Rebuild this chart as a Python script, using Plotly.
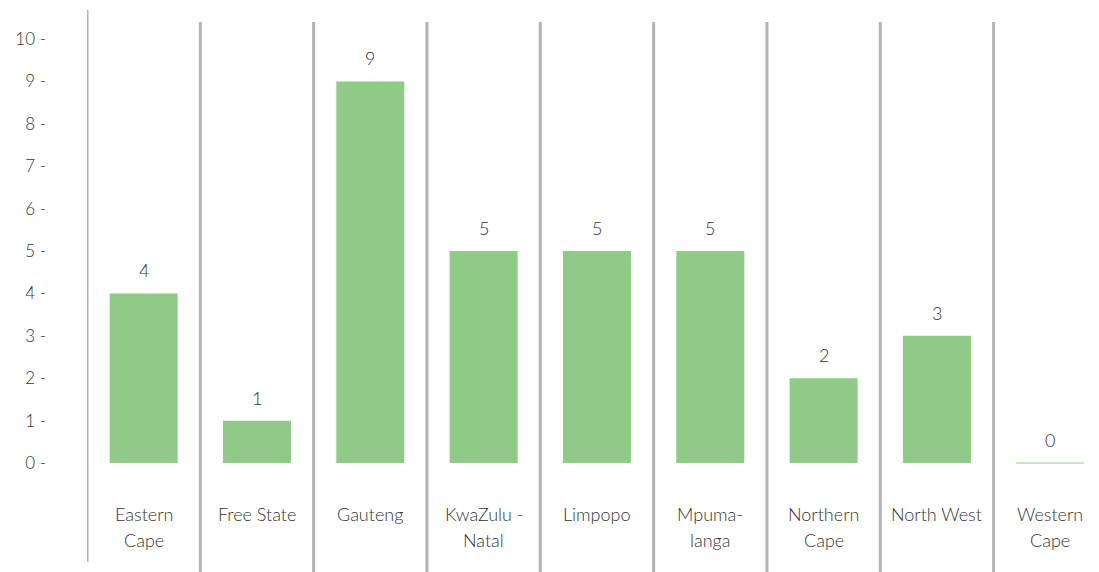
import plotly.graph_objects as go

# Provinces and counts
provinces = ["Eastern\nCape", "Free State", "Gauteng", "KwaZulu -\nNatal", "Limpopo",
             "Mpuma-\nlanga", "Northern\nCape", "North West", "Western\nCape"]
counts = [4, 1, 9, 5, 5, 5, 2, 3, 0]
y_ticks = list(range(0, 11))

BAR_COLOR = "#8fcb87"
SEP_COLOR = "#b3b3b6"
TEXT_COLOR = "#333333"
FONT = "Lato"
LINE_STEP = 26  # px between lines of a province name
W, H = 1099, 572

xs = list(range(len(provinces)))

fig = go.Figure()
fig.add_trace(go.Bar(
    x=xs, y=counts, width=0.6,
    marker=dict(color=BAR_COLOR, line=dict(width=0)),
    hoverinfo="skip",
))

shapes = []
# separators between provinces
for i in xs:
    top, bottom = (10, 562) if i == 0 else (22, 572)
    shapes.append(dict(type="line", xref="x", yref="paper",
                       x0=i - 0.5, x1=i - 0.5, y0=1 - top / H, y1=1 - bottom / H,
                       line=dict(color=SEP_COLOR, width=3)))
# thin baseline for empty bars
for i, v in zip(xs, counts):
    if v == 0:
        shapes.append(dict(type="line", xref="x", yref="y",
                           x0=i - 0.3, x1=i + 0.3, y0=v, y1=v,
                           line=dict(color=BAR_COLOR, width=1)))

annotations = []
# province names under the bars, one annotation per line
for i, p in zip(xs, provinces):
    for k, line in enumerate(p.split("\n")):
        annotations.append(dict(x=i, y=-1.2, xref="x", yref="y", text=line,
                                showarrow=False, yshift=-LINE_STEP * k,
                                font=dict(family=FONT, size=18, color=TEXT_COLOR, weight=300),
                                yanchor="middle", xanchor="center"))
# value labels above the bars
annotations += [dict(x=i, y=v, xref="x", yref="y", text=str(v), showarrow=False,
                     font=dict(family=FONT, size=18, color=TEXT_COLOR, weight=300),
                     yanchor="middle", xanchor="center", yshift=23)
                for i, v in zip(xs, counts)]

fig.update_layout(
    width=W, height=H,
    margin=dict(l=87, r=0, t=0, b=0),
    plot_bgcolor="white", paper_bgcolor="white",
    showlegend=False,
    shapes=shapes, annotations=annotations,
    xaxis=dict(range=[-0.5, 8.43], showgrid=False, zeroline=False,
               showticklabels=False, ticks="", showline=False, fixedrange=True),
    yaxis=dict(range=[-2.57, 10.92], tickmode="array", tickvals=y_ticks,
               ticktext=[f"{t} -" for t in y_ticks],
               showgrid=False, zeroline=False, showline=False, ticks="",
               ticklabelstandoff=40,
               tickfont=dict(family=FONT, size=17, color=TEXT_COLOR, weight=300),
               fixedrange=True),
)

fig.write_html("out.html")
